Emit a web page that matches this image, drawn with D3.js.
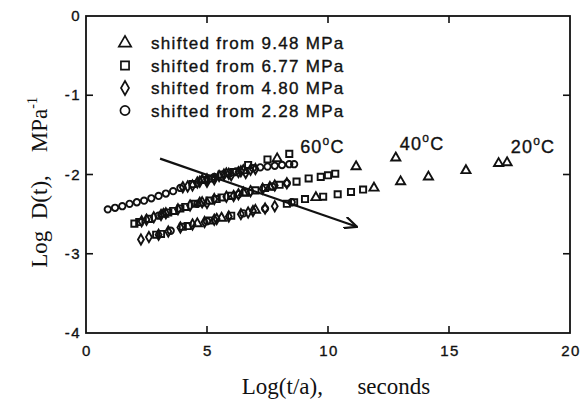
<!DOCTYPE html>
<html>
<head>
<meta charset="UTF-8">
<style>
  body { margin: 0; background: #fff; }
  svg { display: block; }
  .tick-label { font-family: "Liberation Sans", Arial, sans-serif; font-size: 15px; letter-spacing: 1.5px; fill: #111; stroke: #111; stroke-width: 0.35px; }
  .legend text { font-family: "Liberation Sans", Arial, sans-serif; font-size: 17px; letter-spacing: 1.3px; fill: #111; stroke: #111; stroke-width: 0.35px; }
  .temp { font-family: "Liberation Sans", Arial, sans-serif; font-size: 18px; letter-spacing: 1.2px; fill: #111; stroke: #111; stroke-width: 0.35px; }
  .title { font-family: "Liberation Serif", "Times New Roman", serif; font-size: 23px; fill: #111; }
</style>
<script src="https://d3js.org/d3.v7.min.js"></script>
</head>
<body>
<svg id="chart"></svg>
<script>
// [log(t/a), log D(t)]; each series spans the three temperature bands
const triangles = [
  [4.8, -2.07], [5.8, -1.99], [6.5, -1.95], [7.9, -1.80],
  [3.2, -2.50], [4.7, -2.36], [6.5, -2.23], [7.6, -2.16], [11.16, -1.90], [12.8, -1.79],
  [4.6, -2.62], [5.6, -2.55], [7.0, -2.45], [9.5, -2.29], [11.9, -2.17], [13.0, -2.09],
  [14.15, -2.03], [15.7, -1.95], [17.05, -1.86], [17.4, -1.85]
]
const squares = [
  [4.4, -2.12], [4.9, -2.07], [5.2, -2.05], [5.6, -2.00], [6.1, -1.97], [6.7, -1.88], [7.5, -1.81], [8.4, -1.74],
  [2.0, -2.62], [2.2, -2.60], [2.6, -2.56], [3.4, -2.48], [3.6, -2.46], [3.9, -2.43], [4.1, -2.41], [4.5, -2.37],
  [5.1, -2.33], [5.4, -2.31], [5.6, -2.29], [6.0, -2.27], [6.6, -2.23], [7.0, -2.20], [7.4, -2.17],
  [8.0, -2.13], [8.7, -2.09], [9.2, -2.05], [9.7, -2.03], [10.0, -2.01], [10.3, -1.99],
  [2.9, -2.76], [3.1, -2.75], [4.0, -2.66], [4.2, -2.65], [5.1, -2.58], [6.0, -2.52], [8.3, -2.37], [8.6, -2.35],
  [9.05, -2.31], [9.8, -2.28], [10.4, -2.25], [10.95, -2.22], [11.45, -2.19]
]
const diamonds = [
  [4.0, -2.16], [4.2, -2.15], [4.4, -2.14], [4.6, -2.10], [4.7, -2.09], [5.0, -2.09], [5.0, -2.06],
  [5.3, -2.06], [5.5, -2.02], [5.7, -2.00], [5.9, -1.99], [6.0, -2.01], [6.3, -1.97], [6.4, -1.96],
  [6.6, -1.98], [6.8, -1.94], [7.0, -1.93],
  [2.3, -2.59], [2.5, -2.57], [2.8, -2.54], [3.1, -2.51], [3.3, -2.49], [3.8, -2.44], [4.3, -2.39],
  [4.8, -2.35], [5.0, -2.36], [5.3, -2.31], [5.8, -2.28], [6.1, -2.27], [6.3, -2.25], [6.8, -2.21],
  [7.3, -2.18], [7.8, -2.14], [8.3, -2.11],
  [2.27, -2.82], [2.6, -2.79], [3.0, -2.76], [3.4, -2.72], [3.9, -2.67], [4.4, -2.63], [4.9, -2.60],
  [5.3, -2.57], [5.4, -2.56], [5.9, -2.53], [6.4, -2.50], [6.7, -2.48], [6.9, -2.46], [7.4, -2.43], [7.8, -2.40]
]
const circles = [
  [0.9, -2.44], [1.2, -2.42], [1.5, -2.40], [1.8, -2.37], [2.1, -2.35], [2.4, -2.33], [2.7, -2.30],
  [3.0, -2.27], [3.3, -2.24], [3.6, -2.21], [3.9, -2.17], [5.3, -2.03], [6.2, -1.96], [6.9, -1.92],
  [7.2, -1.91], [7.5, -1.90], [7.8, -1.89], [8.1, -1.88], [8.4, -1.87], [8.6, -1.87],
  [3.0, -2.52], [4.6, -2.37], [6.3, -2.25], [7.7, -2.15], [8.3, -2.11],
  [3.5, -2.71], [5.0, -2.59], [6.5, -2.49], [7.4, -2.43], [8.5, -2.35]
]

const legendLabels = ['shifted from 9.48 MPa', 'shifted from 6.77 MPa', 'shifted from 4.80 MPa', 'shifted from 2.28 MPa']
const tempLabels = [['60', 8.85, -1.73], ['40', 12.97, -1.69], ['20', 17.55, -1.73]]
const arrowFrom = [3.06, -1.80]
const arrowTo = [11.2, -2.66]
const xTicks = [0, 5, 10, 15, 20]
const yTicks = [0, -1, -2, -3, -4]

let width = 585
let height = 408
let margin = { top: 16, right: 15, bottom: 75, left: 86 }

let svg = d3.select('#chart')
  .attr('width', width)
  .attr('height', height)

let x = d3.scaleLinear().domain([0, 20]).range([margin.left, width - margin.right])
let y = d3.scaleLinear().domain([-4, 0]).range([height - margin.bottom, margin.top])

// frame
svg.append('rect')
  .attr('x', x(0)).attr('y', y(0))
  .attr('width', x(20) - x(0)).attr('height', y(-4) - y(0))
  .attr('fill', 'none').attr('stroke', '#111').attr('stroke-width', 1.8)

// inward ticks on all four sides
let tickLen = 7
let tk = svg.append('g').attr('stroke', '#111').attr('stroke-width', 1.6)
xTicks.slice(1, -1).forEach(v => {
  tk.append('line').attr('x1', x(v)).attr('x2', x(v)).attr('y1', y(-4)).attr('y2', y(-4) - tickLen)
  tk.append('line').attr('x1', x(v)).attr('x2', x(v)).attr('y1', y(0)).attr('y2', y(0) + tickLen)
})
yTicks.slice(1, -1).forEach(v => {
  tk.append('line').attr('x1', x(0)).attr('x2', x(0) + tickLen).attr('y1', y(v)).attr('y2', y(v))
  tk.append('line').attr('x1', x(20)).attr('x2', x(20) - tickLen).attr('y1', y(v)).attr('y2', y(v))
})

svg.append('g').selectAll('text').data(xTicks).enter().append('text')
  .attr('class', 'tick-label')
  .attr('x', d => x(d) + 1).attr('y', y(-4) + 23)
  .attr('text-anchor', 'middle')
  .text(d => d)

svg.append('g').selectAll('text').data(yTicks).enter().append('text')
  .attr('class', 'tick-label')
  .attr('x', x(0) - 5).attr('y', d => y(d) + 5)
  .attr('text-anchor', 'end')
  .text(d => d)

// axis titles
svg.append('text').attr('class', 'title')
  .attr('x', 336).attr('y', 394)
  .attr('text-anchor', 'middle')
  .attr('xml:space', 'preserve')
  .text('Log(t/a),      seconds')

let yt = svg.append('text').attr('class', 'title')
  .attr('transform', `translate(47, ${y(-2.1)}) rotate(-90)`)
  .attr('text-anchor', 'middle')
  .attr('xml:space', 'preserve')
yt.append('tspan').text('Log  D(t),    MPa')
yt.append('tspan').attr('dy', -10).attr('font-size', 14).text('-1')

// markers
let series = [
  { data: triangles, type: d3.symbolTriangle, size: 36 },
  { data: squares, type: d3.symbolSquare, size: 38 },
  { data: diamonds, type: d3.symbolDiamond, size: 30 },
  { data: circles, type: d3.symbolCircle, size: 32 }
]

let pts = svg.append('g')
series.forEach(s => {
  pts.append('g').selectAll('path').data(s.data).enter().append('path')
    .attr('d', d3.symbol().type(s.type).size(s.size))
    .attr('transform', d => `translate(${x(d[0])}, ${y(d[1])})`)
    .attr('fill', 'none')
    .attr('stroke', '#111')
    .attr('stroke-width', 1.9)
})

// arrow
svg.append('defs').append('marker')
  .attr('id', 'head')
  .attr('viewBox', '0 0 14 12')
  .attr('refX', 13).attr('refY', 6)
  .attr('markerWidth', 14).attr('markerHeight', 12)
  .attr('markerUnits', 'userSpaceOnUse')
  .attr('orient', 'auto')
  .append('path')
  .attr('d', 'M0,0 L13,6 L0,12')
  .attr('fill', 'none').attr('stroke', '#111').attr('stroke-width', 2.2)

svg.append('line')
  .attr('x1', x(arrowFrom[0])).attr('y1', y(arrowFrom[1]))
  .attr('x2', x(arrowTo[0])).attr('y2', y(arrowTo[1]))
  .attr('stroke', '#111').attr('stroke-width', 2.2)
  .attr('marker-end', 'url(#head)')

// temperature labels
tempLabels.forEach(t => {
  let tx = svg.append('text').attr('class', 'temp')
    .attr('x', x(t[1])).attr('y', y(t[2]))
  tx.append('tspan').text(t[0])
  tx.append('tspan').attr('dy', -8).attr('font-size', 12).text('o')
  tx.append('tspan').attr('dy', 8).text('C')
})

// legend
let legend = svg.append('g').attr('class', 'legend')
let legendTypes = [d3.symbolTriangle, d3.symbolSquare, d3.symbolDiamond, d3.symbolCircle]
legendLabels.forEach((label, i) => {
  let ly = 43 + i * 22.5
  legend.append('path')
    .attr('d', d3.symbol().type(legendTypes[i]).size(i === 2 ? 56 : 66))
    .attr('transform', `translate(125, ${ly})`)
    .attr('fill', 'none').attr('stroke', '#111').attr('stroke-width', 1.7)
  legend.append('text')
    .attr('x', 151).attr('y', ly + 6)
    .text(label)
})
</script>
</body>
</html>
